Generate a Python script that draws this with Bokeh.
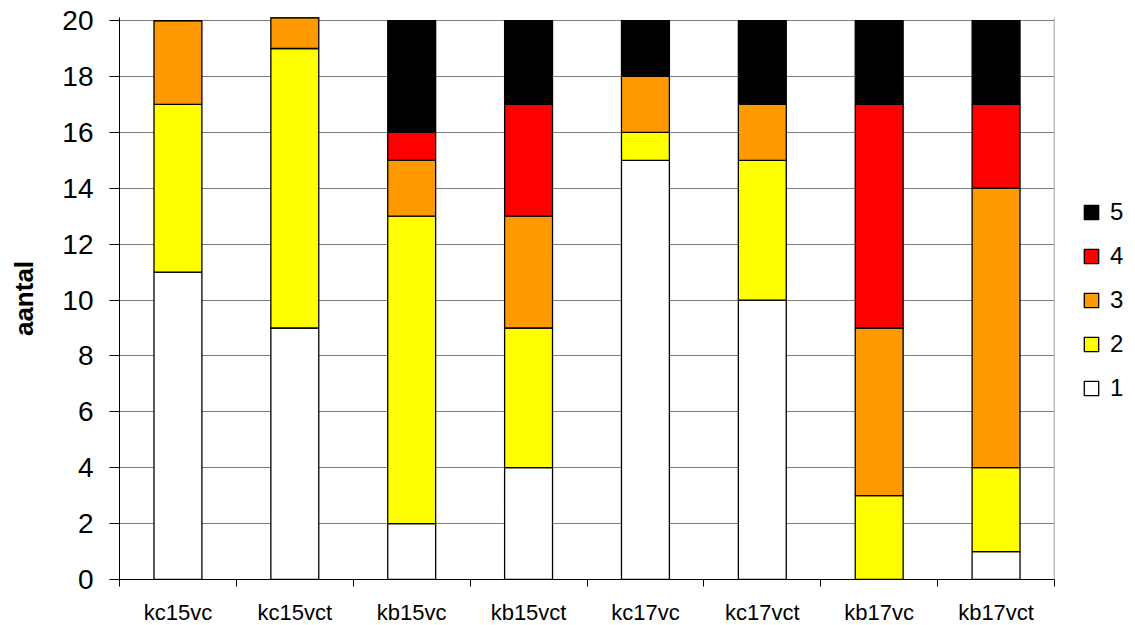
import numpy as np
from bokeh.plotting import figure
from bokeh.models import Range1d, FixedTicker, Legend, LegendItem, Span
from bokeh.embed import file_html
from bokeh.resources import INLINE

categories = ["kc15vc", "kc15vct", "kb15vc", "kb15vct", "kc17vc", "kc17vct", "kb17vc", "kb17vct"]
score_1 = [11, 9, 2, 4, 15, 10, 0, 1]
score_2 = [6, 10, 11, 5, 1, 5, 3, 3]
score_3 = [3, 2, 2, 4, 2, 2, 6, 10]
score_4 = [0, 0, 1, 4, 0, 0, 8, 3]
score_5 = [0, 0, 4, 3, 2, 3, 3, 3]
series_names = ["1", "2", "3", "4", "5"]
series_colors = ["#FFFFFF", "#FFFF00", "#FF9900", "#FF0000", "#000000"]
y_ticks = list(range(0, 21, 2))

FONT = "Liberation Sans"

x_pos = np.arange(len(categories)) + 0.5
data = {"x": x_pos}
for name, vals in zip(series_names, [score_1, score_2, score_3, score_4, score_5]):
    data[name] = vals

p = figure(frame_width=935, frame_height=562, output_backend="svg", toolbar_location=None,
           x_range=Range1d(0, len(categories)), y_range=Range1d(0, 20.11),
           min_border_left=119, min_border_right=81, min_border_top=17, min_border_bottom=46)
p.outline_line_color = None
p.background_fill_color = "white"

renderers = p.vbar_stack(series_names, x="x", width=0.41, source=data,
                         fill_color=series_colors, line_color="black", line_width=1.3)

# category labels centred under bars, tick marks on the boundaries
p.xaxis.ticker = FixedTicker(ticks=list(x_pos), minor_ticks=list(range(len(categories) + 1)))
p.xaxis.major_label_overrides = {float(x): c for x, c in zip(x_pos, categories)}
p.xaxis.major_tick_line_color = None
p.xaxis.major_tick_out = 0
p.xaxis.major_tick_in = 0
p.xaxis.minor_tick_line_color = "black"
p.xaxis.minor_tick_out = 7
p.xaxis.minor_tick_in = 0
p.xaxis.major_label_standoff = 13
p.xaxis.major_label_text_font = FONT
p.xaxis.major_label_text_font_size = "22px"
p.xaxis.major_label_text_color = "black"
p.xaxis.axis_line_color = "black"

p.yaxis.ticker = FixedTicker(ticks=y_ticks)
p.yaxis.minor_tick_line_color = None
p.yaxis.major_tick_out = 10
p.yaxis.major_tick_in = 0
p.yaxis.major_label_standoff = 16
p.yaxis.major_label_text_font = FONT
p.yaxis.major_label_text_font_size = "28px"
p.yaxis.major_label_text_color = "black"
p.yaxis.axis_line_color = "black"
p.yaxis.axis_label = "aantal"
p.yaxis.axis_label_text_font = FONT
p.yaxis.axis_label_text_font_style = "bold"
p.yaxis.axis_label_text_font_size = "26px"
p.yaxis.axis_label_text_color = "black"
p.yaxis.axis_label_standoff = 20

p.xgrid.grid_line_color = None
p.ygrid.grid_line_color = "#808080"
p.ygrid.grid_line_width = 1

p.add_layout(Span(location=len(categories), dimension="height", line_color="#808080", line_width=1.5))

items = [LegendItem(label=n, renderers=[r]) for n, r in zip(series_names, renderers)][::-1]
legend = Legend(items=items, location=(28, 177), glyph_width=18, glyph_height=18,
                label_text_font=FONT, label_text_font_size="24px", label_text_color="black",
                spacing=16, label_standoff=10, label_width=0, padding=0, margin=0,
                border_line_color=None, background_fill_alpha=0)
p.add_layout(legend, "right")

open("out.html", "w").write(file_html(p, INLINE))
